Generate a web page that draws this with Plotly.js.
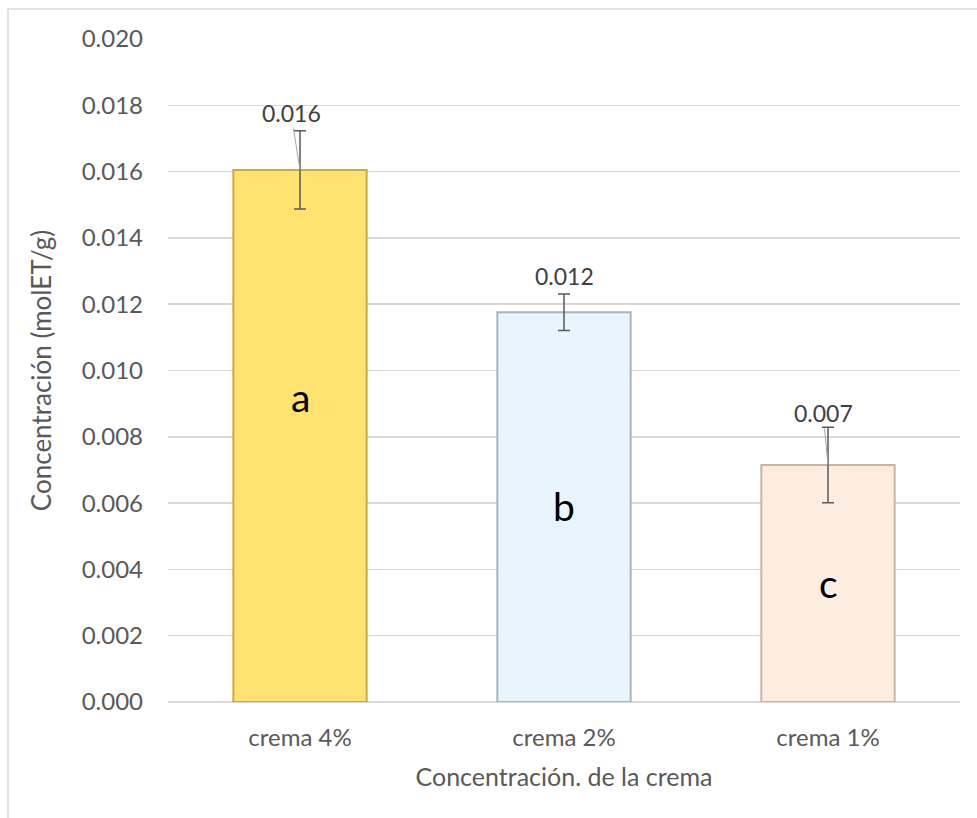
<!DOCTYPE html>
<html>
<head>
<meta charset="utf-8">
<script src="https://cdn.plot.ly/plotly-3.0.1.min.js"></script>
<style>html,body{margin:0;padding:0;background:#fff;}#chart{width:977px;height:818px;}</style>
</head>
<body>
<div id="chart"></div>
<script>
// ---- data ----
var categories = ["crema 4%", "crema 2%", "crema 1%"];
var values = [0.01605, 0.01176, 0.00715];
var errors = [0.00118, 0.00055, 0.00114];
var groupLetters = ["a", "b", "c"];
var letterY = [0.0092, 0.0059, 0.0036];
var yTickVals = [0, 0.002, 0.004, 0.006, 0.008, 0.010, 0.012, 0.014, 0.016, 0.018, 0.020];
var xTitle = "Concentración. de la crema";
var yTitle = "Concentración (molET/g)";

// ---- styles ----
var fillColors = ["#FFE270", "#E9F5FD", "#FDEDE1"];
var edgeColors = ["#CDA945", "#A9B3BE", "#CBB3A4"];
var labelOffsets = [[-9, -57, true], [0, -36, false], [-5, -52, true]];
var FONT = "Lato, 'Open Sans', sans-serif";

var trace = {
  type: "bar",
  x: categories,
  y: values,
  width: 0.505,
  marker: { color: fillColors, line: { color: edgeColors, width: 2 } },
  error_y: { type: "data", array: errors, visible: true, color: "#595959", thickness: 1.5, width: 6 },
  hoverinfo: "skip"
};

var annotations = [];
for (var i = 0; i < categories.length; i++) {
  var o = labelOffsets[i];
  annotations.push({
    x: categories[i], y: values[i], xref: "x", yref: "y",
    text: values[i].toFixed(3),
    showarrow: true, arrowhead: 0, arrowwidth: 1,
    arrowcolor: o[2] ? "#A6A6A6" : "rgba(0,0,0,0)",
    ax: o[0], ay: o[1], standoff: 0,
    font: { family: FONT, size: 23, color: "#404040" }
  });
  annotations.push({
    x: categories[i], y: letterY[i], xref: "x", yref: "y",
    text: groupLetters[i], showarrow: false,
    xanchor: "center", yanchor: "middle",
    font: { family: FONT, size: 39, color: "#000000" }
  });
}

var L = 168, R = 17, T = 39, B = 116, W = 977, H = 818;
var pw = W - L - R, ph = H - T - B;
function px2x(p) { return (p - L) / pw; }
function py2y(p) { return (H - B - p) / ph; }

var layout = {
  width: W, height: H,
  margin: { l: L, r: R, t: T, b: B },
  paper_bgcolor: "#ffffff", plot_bgcolor: "#ffffff",
  showlegend: false,
  font: { family: FONT, color: "#595959" },
  xaxis: {
    type: "category",
    tickfont: { family: FONT, size: 24, color: "#595959" },
    ticks: "", showgrid: false, zeroline: false, showline: false,
    ticklabelstandoff: 19,
    title: { text: xTitle, font: { family: FONT, size: 25, color: "#595959" }, standoff: 18 }
  },
  yaxis: {
    range: [0, 0.020],
    tickvals: yTickVals,
    tickformat: ".3f",
    tickfont: { family: FONT, size: 24, color: "#595959" },
    ticks: "", showgrid: true, gridcolor: "#D9D9D9", gridwidth: 1.5,
    zeroline: true, zerolinecolor: "#D9D9D9", zerolinewidth: 2,
    showline: false,
    ticklabelstandoff: 24,
    title: { text: yTitle, font: { family: FONT, size: 26, color: "#595959" }, standoff: 22 }
  },
  annotations: annotations,
  shapes: [{
    type: "rect", xref: "paper", yref: "paper",
    x0: px2x(8), x1: px2x(1000), y0: py2y(840), y1: py2y(9),
    line: { color: "#D9D9D9", width: 1.5 }, fillcolor: "rgba(0,0,0,0)", layer: "below"
  }]
};

Plotly.newPlot("chart", [trace], layout, { displayModeBar: false, staticPlot: true });
</script>
</body>
</html>
